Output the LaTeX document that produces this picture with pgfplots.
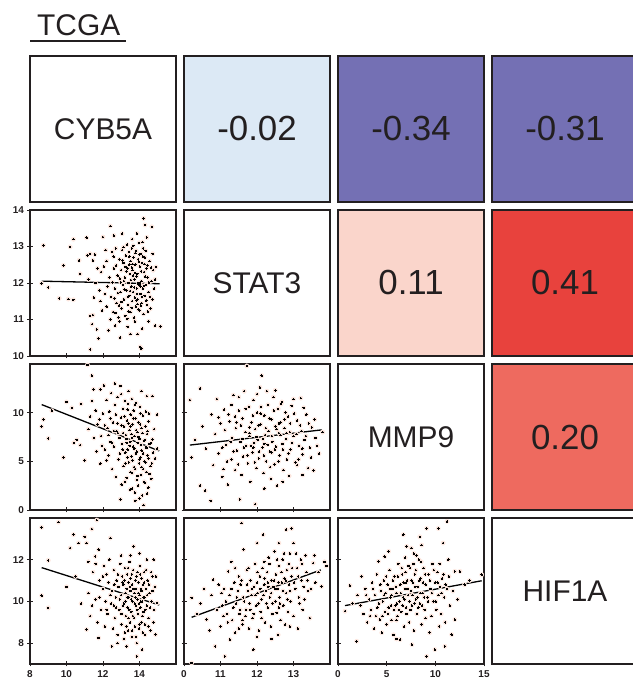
\documentclass[border=0pt]{standalone}
\usepackage{pgfplots}
\pgfplotsset{compat=1.18}
\usepackage{pgfplotstable}
\usepackage{fontspec}
\setmainfont{Liberation Sans}

\definecolor{frame}{RGB}{35,31,32}
\definecolor{hcol}{RGB}{252,230,222}
\definecolor{cblue}{RGB}{220,233,245}
\definecolor{cpurple}{RGB}{116,112,180}
\definecolor{cpink}{RGB}{250,213,203}
\definecolor{cred}{RGB}{232,66,61}
\definecolor{cmid}{RGB}{238,106,95}

% CYB5A vs STAT3
\pgfplotstableread{
x y
8.73 13.03
8.64 11.99
9.00 11.88
9.60 11.58
9.83 12.48
10.10 11.56
10.38 11.54
10.20 12.99
10.38 13.20
10.69 12.62
10.75 12.25
11.10 13.24
11.15 12.76
11.30 12.80
11.45 12.62
11.55 12.78
11.30 11.10
11.45 11.12
11.40 10.87
11.66 10.73
11.75 10.48
11.30 10.18
12.00 13.26
12.40 13.56
12.67 10.83
12.94 10.50
13.50 10.60
14.04 10.25
14.10 10.20
14.23 13.77
14.30 13.59
14.68 13.54
13.86 13.36
14.90 12.44
14.85 10.83
15.14 10.81
11.20 12.10
11.60 12.00
11.80 11.80
11.90 12.30
12.10 11.70
12.20 12.60
12.35 12.15
12.45 11.62
12.50 12.85
12.55 11.20
12.60 12.40
12.65 11.85
12.70 12.95
12.75 11.45
12.80 12.20
12.85 11.05
12.90 12.65
12.95 11.75
13.00 12.35
13.02 11.30
13.05 12.90
13.10 11.95
13.12 12.55
13.15 11.55
13.20 12.15
13.22 11.10
13.25 12.75
13.30 11.80
13.32 13.05
13.35 12.40
13.38 11.40
13.40 12.00
13.42 12.85
13.45 11.65
13.48 12.25
13.50 11.20
13.52 12.60
13.55 11.90
13.58 12.95
13.60 11.50
13.62 12.35
13.65 11.75
13.68 12.70
13.70 11.05
13.72 12.10
13.75 11.60
13.78 12.50
13.80 11.35
13.82 12.88
13.85 11.85
13.88 12.25
13.90 11.55
13.92 12.65
13.95 11.95
13.98 13.10
14.00 11.25
14.02 12.45
14.05 11.70
14.08 12.80
14.10 12.05
14.12 11.45
14.15 12.55
14.18 11.85
14.20 12.95
14.22 11.15
14.25 12.30
14.28 11.65
14.30 12.70
14.35 11.95
14.38 12.40
14.42 11.40
14.45 12.15
14.50 11.75
14.55 12.60
14.60 11.30
14.65 12.05
14.70 11.55
14.75 12.35
14.80 11.85
12.40 11.00
12.90 10.95
13.35 10.80
13.75 10.95
14.15 10.75
12.60 13.30
13.05 13.35
13.60 13.20
14.40 13.25
12.20 11.35
12.05 12.45
11.95 11.25
13.15 12.05
13.45 12.50
13.95 12.00
14.05 11.90
13.65 12.20
13.85 11.70
12.52 12.02
12.62 11.58
12.72 12.48
12.82 11.72
12.92 12.12
13.02 11.48
13.08 12.62
13.18 11.82
13.28 12.32
13.36 11.62
13.44 12.72
13.53 12.08
13.57 11.32
13.63 12.52
13.71 11.88
13.77 12.82
13.84 12.18
13.89 11.42
13.96 12.58
14.03 11.98
14.09 12.32
14.13 11.62
14.19 12.72
14.24 11.92
14.31 12.18
14.37 11.52
14.43 12.48
14.52 12.02
14.58 11.62
14.64 12.42
12.58 12.72
12.88 11.38
13.13 12.98
13.41 11.22
13.66 13.02
13.93 11.28
14.16 13.12
14.46 11.22
13.24 12.44
13.49 11.78
13.74 12.28
13.99 12.78
14.27 12.52
12.98 12.02
13.58 12.42
13.83 11.52
14.07 11.38
12.68 11.18
13.34 11.02
14.34 12.88
11.70 12.40
11.85 11.50
12.15 12.90
12.25 11.90
11.50 11.60
14.72 12.80
14.85 12.10
12.30 10.70
13.90 10.60
14.50 10.95
}\dataA

% CYB5A vs MMP9
\pgfplotstableread{
x y
8.64 8.58
8.73 9.30
9.00 7.36
9.20 10.20
9.83 5.38
10.00 11.10
10.29 10.49
10.40 6.90
10.56 7.20
10.75 6.67
10.80 10.90
11.00 5.10
11.15 14.90
11.39 13.80
11.48 12.40
11.20 8.30
11.30 9.60
11.50 7.40
11.60 10.20
11.70 8.80
11.85 12.40
11.85 4.76
11.90 7.60
12.00 9.90
12.10 6.20
12.20 11.30
12.25 8.40
12.30 5.60
12.35 10.10
12.40 7.00
12.45 12.00
12.50 4.20
12.55 9.00
12.60 6.50
12.65 10.80
12.70 3.40
12.75 8.10
12.80 11.60
12.85 5.20
12.90 7.40
12.95 12.74
12.95 1.10
13.00 9.50
13.02 2.60
13.05 6.80
13.10 10.40
13.12 4.50
13.15 8.60
13.20 11.20
13.22 5.90
13.25 7.70
13.30 3.30
13.32 9.20
13.35 6.20
13.38 10.90
13.40 12.20
13.42 4.90
13.45 8.20
13.48 2.10
13.50 7.00
13.52 9.80
13.55 5.50
13.58 11.40
13.60 3.80
13.62 8.80
13.65 6.50
13.68 10.20
13.70 4.40
13.72 7.60
13.75 1.80
13.77 0.94
13.78 9.40
13.80 5.80
13.82 11.00
13.85 3.10
13.88 8.00
13.90 6.90
13.92 2.50
13.95 9.00
13.98 4.80
14.00 7.30
14.02 10.60
14.05 5.40
14.08 3.60
14.10 8.40
14.12 6.10
14.15 1.50
14.18 9.70
14.20 4.20
14.23 0.50
14.25 7.10
14.28 5.00
14.30 2.80
14.32 8.60
14.35 6.40
14.38 3.90
14.40 11.70
14.42 7.80
14.45 5.60
14.48 2.30
14.50 9.10
14.55 6.80
14.60 4.50
14.65 3.20
14.70 11.70
14.70 7.26
14.75 5.90
14.80 8.30
14.96 9.80
14.96 6.30
12.80 8.90
13.10 7.90
13.50 8.60
13.30 6.90
13.60 7.40
12.82 7.90
12.92 5.80
13.02 8.70
13.08 6.20
13.18 9.60
13.24 4.80
13.28 7.30
13.34 5.40
13.40 8.90
13.46 6.60
13.52 3.90
13.56 7.80
13.62 5.10
13.66 9.40
13.72 6.30
13.76 4.20
13.82 8.20
13.86 6.00
13.90 3.50
13.94 7.50
14.00 5.20
14.04 8.80
14.08 6.70
14.12 4.40
14.16 7.90
14.20 5.80
14.26 2.90
14.30 7.20
14.34 4.90
14.40 6.40
14.44 8.10
14.50 5.30
14.56 3.70
14.62 6.90
14.68 4.80
12.70 9.80
12.60 8.10
12.50 6.90
12.40 9.40
12.30 7.70
12.20 5.10
12.10 8.70
11.95 6.60
11.80 9.30
11.65 6.00
13.35 10.30
13.75 10.80
14.05 9.90
14.35 10.10
13.20 2.90
13.60 2.20
14.00 1.20
14.42 1.70
14.52 9.90
14.85 5.30
11.40 11.20
12.05 12.80
12.65 13.00
13.00 11.90
14.10 12.20
}\dataB

% STAT3 vs MMP9
\pgfplotstableread{
x y
10.16 11.30
10.21 5.40
10.30 7.20
10.44 12.50
10.44 2.50
10.50 8.60
10.58 1.98
10.60 6.30
10.73 0.94
10.75 9.80
10.80 4.60
10.85 7.80
10.90 11.40
10.95 5.80
11.00 8.90
11.05 3.40
11.10 10.30
11.15 6.70
11.20 2.60
11.25 9.10
11.30 5.20
11.32 7.40
11.35 11.80
11.40 4.10
11.42 8.40
11.45 6.10
11.50 10.20
11.53 1.10
11.55 7.00
11.58 3.60
11.60 9.40
11.62 5.50
11.65 12.20
11.68 8.00
11.70 6.60
11.72 14.80
11.75 4.80
11.78 10.60
11.80 7.60
11.82 2.90
11.85 9.00
11.88 5.90
11.90 11.30
11.92 6.90
11.95 0.60
11.95 8.30
11.98 4.30
12.00 10.00
12.02 7.20
12.05 5.30
12.08 12.60
12.10 8.80
12.13 13.80
12.15 6.40
12.18 3.80
12.20 9.70
12.22 7.70
12.25 5.00
12.27 12.20
12.30 10.80
12.32 8.10
12.35 6.00
12.38 3.20
12.40 9.30
12.42 7.00
12.45 11.60
12.48 4.70
12.50 8.60
12.52 6.50
12.55 2.50
12.58 10.40
12.60 7.90
12.62 5.60
12.65 9.00
12.68 11.10
12.70 6.80
12.72 4.10
12.75 8.40
12.78 10.00
12.80 7.30
12.82 5.20
12.85 9.60
12.88 3.50
12.90 8.00
12.92 6.20
12.95 10.70
13.00 7.60
13.05 4.90
13.10 4.60
13.10 9.20
13.15 6.60
13.20 11.50
13.22 8.10
13.25 5.70
13.30 7.20
13.35 9.80
13.40 4.30
13.45 6.40
13.50 8.50
13.55 4.06
13.60 7.40
13.70 5.80
13.80 8.00
11.40 9.60
11.60 7.30
11.90 6.40
12.10 9.90
12.40 5.90
12.60 8.90
12.20 6.80
11.80 8.50
11.05 6.40
11.12 8.20
11.18 5.00
11.22 9.80
11.28 7.00
11.36 6.00
11.44 9.00
11.48 4.70
11.56 8.70
11.64 6.40
11.69 10.40
11.74 5.60
11.79 7.90
11.84 6.60
11.89 9.70
11.94 4.90
11.99 7.50
12.04 8.70
12.06 6.00
12.11 10.60
12.16 7.30
12.19 5.60
12.24 8.40
12.29 6.70
12.34 9.40
12.36 4.40
12.41 7.60
12.46 10.20
12.49 6.20
12.54 8.30
12.59 5.00
12.64 7.70
12.66 10.90
12.71 6.20
12.76 9.30
12.81 7.90
12.86 5.80
12.91 8.90
12.96 6.90
13.02 9.90
13.08 7.80
13.14 5.20
13.18 8.70
13.24 6.30
13.28 10.50
13.34 7.60
13.42 8.90
13.48 5.40
13.58 9.30
13.65 6.60
11.30 10.80
11.50 11.60
12.00 11.90
12.50 12.30
13.00 11.40
10.95 9.50
11.08 4.20
12.20 2.20
12.70 2.90
13.25 3.60
}\dataC

% CYB5A vs HIF1A
\pgfplotstableread{
x y
8.64 13.55
8.64 10.28
9.00 9.69
9.00 11.97
9.56 13.80
10.00 10.70
10.20 12.56
10.38 13.20
10.66 12.80
10.50 11.20
10.80 9.90
11.00 13.10
11.10 12.80
11.10 8.65
11.20 10.40
11.30 9.30
11.39 13.47
11.45 11.40
11.57 12.16
11.60 10.10
11.66 13.90
11.70 9.00
11.76 12.48
11.76 8.25
11.80 11.00
11.90 9.60
12.00 10.60
12.05 11.70
12.10 8.80
12.15 10.00
12.20 11.30
12.25 9.40
12.30 10.90
12.35 12.00
12.40 13.04
12.45 9.90
12.49 7.85
12.50 10.50
12.55 8.70
12.60 11.50
12.65 9.20
12.70 10.20
12.75 11.00
12.80 8.40
12.85 10.70
12.90 9.60
12.95 11.80
13.00 10.30
13.02 8.90
13.05 11.20
13.10 9.80
13.12 10.80
13.15 8.20
13.20 11.60
13.22 10.00
13.25 9.30
13.30 10.60
13.30 7.85
13.32 11.30
13.35 9.70
13.38 8.60
13.40 10.90
13.42 10.20
13.45 11.90
13.48 9.00
13.50 10.50
13.52 11.10
13.55 9.50
13.58 8.30
13.60 10.80
13.62 10.00
13.65 11.50
13.68 12.64
13.70 9.20
13.72 10.40
13.75 8.80
13.78 11.00
13.80 9.80
13.82 10.60
13.85 8.00
13.86 7.37
13.88 11.40
13.90 10.10
13.92 9.40
13.95 10.90
13.98 8.70
14.00 10.30
14.02 11.70
14.05 9.70
14.08 10.60
14.10 9.00
14.12 11.10
14.14 7.69
14.15 10.00
14.18 8.50
14.20 10.80
14.22 9.50
14.25 11.40
14.28 10.20
14.30 8.90
14.35 10.60
14.40 9.80
14.45 11.00
14.50 9.20
14.55 10.40
14.60 8.60
14.65 10.00
14.70 11.20
14.78 12.00
14.80 9.60
14.87 8.41
14.96 9.93
12.62 10.80
12.72 9.70
12.82 11.30
12.92 10.10
13.02 9.40
13.08 10.90
13.14 9.90
13.18 11.00
13.24 10.40
13.28 8.80
13.34 10.20
13.38 11.60
13.44 9.60
13.48 10.70
13.54 10.10
13.58 11.30
13.64 9.30
13.68 10.60
13.74 9.90
13.78 10.20
13.84 11.20
13.88 9.60
13.94 10.40
13.98 9.90
14.04 11.30
14.08 10.00
14.12 10.50
14.16 9.30
14.22 10.20
14.26 10.90
14.32 9.60
14.36 11.50
14.42 10.30
14.48 8.80
14.52 10.80
14.58 9.70
14.64 11.40
14.72 10.50
14.76 9.00
14.84 10.70
13.40 9.20
13.60 8.60
13.80 8.30
14.00 8.90
14.30 8.40
12.60 9.80
12.40 10.30
12.20 9.60
12.00 11.20
11.80 10.20
11.60 11.80
11.40 9.80
11.20 11.90
13.00 12.20
13.50 12.20
14.00 12.30
14.40 12.00
13.20 8.50
12.80 8.00
14.90 11.20
}\dataD

% STAT3 vs HIF1A
\pgfplotstableread{
x y
10.21 10.17
10.21 7.05
10.35 9.40
10.45 9.90
10.55 10.60
10.62 9.13
10.70 8.60
10.75 10.30
10.80 11.04
10.85 7.85
10.90 9.60
10.95 10.80
11.00 8.80
11.03 10.40
11.08 9.30
11.12 7.37
11.15 10.00
11.20 9.00
11.21 11.44
11.26 8.17
11.30 10.60
11.35 9.70
11.40 8.50
11.45 10.20
11.50 11.20
11.52 9.40
11.55 10.80
11.58 13.76
11.60 8.90
11.63 12.48
11.65 10.00
11.70 9.60
11.72 11.50
11.75 10.50
11.78 8.70
11.80 9.90
11.82 11.00
11.85 10.30
11.88 9.20
11.90 7.69
11.92 10.70
11.95 11.80
11.98 9.80
12.00 12.80
12.02 10.40
12.05 8.60
12.08 11.20
12.10 9.50
12.12 10.10
12.15 11.60
12.17 13.20
12.20 10.80
12.22 9.00
12.25 10.50
12.28 11.40
12.30 9.70
12.32 12.10
12.35 10.20
12.38 8.80
12.40 11.00
12.42 9.40
12.45 10.70
12.48 12.40
12.50 10.00
12.52 11.30
12.54 9.45
12.56 10.60
12.58 8.40
12.60 11.70
12.62 10.20
12.65 9.10
12.68 10.90
12.70 12.00
12.72 9.80
12.75 11.10
12.77 8.89
12.80 13.44
12.80 10.40
12.82 11.50
12.85 9.50
12.88 10.80
12.90 12.30
12.92 10.00
12.95 13.50
12.95 11.20
13.00 12.80
13.00 9.30
13.05 10.60
13.10 11.60
13.12 8.70
13.15 10.20
13.20 12.00
13.22 11.00
13.25 9.60
13.30 10.10
13.35 11.40
13.40 10.50
13.45 9.20
13.54 11.84
13.60 10.90
13.77 10.72
13.85 11.90
11.40 11.60
11.60 9.10
12.00 10.90
12.30 10.90
12.60 9.70
12.20 11.90
11.05 9.80
11.10 10.60
11.18 9.40
11.25 10.30
11.32 9.10
11.38 10.90
11.43 9.90
11.48 10.50
11.54 9.60
11.58 11.00
11.62 10.20
11.68 9.30
11.73 10.80
11.77 11.60
11.82 9.60
11.86 10.60
11.91 9.40
11.96 10.30
12.01 11.40
12.04 9.90
12.09 10.60
12.13 9.20
12.18 10.30
12.21 11.10
12.26 9.90
12.31 10.70
12.34 11.80
12.39 10.40
12.43 9.90
12.47 11.00
12.51 10.60
12.55 12.00
12.59 10.90
12.63 9.90
12.67 11.40
12.71 10.50
12.74 12.30
12.79 11.00
12.83 10.10
12.87 11.80
12.91 10.50
12.96 11.60
13.02 10.90
13.07 12.30
13.13 11.20
13.17 9.90
13.23 11.80
13.28 10.70
13.33 12.20
13.38 11.00
13.48 10.60
13.57 12.20
13.68 11.40
13.90 11.70
11.50 8.70
12.00 8.30
12.40 8.20
12.90 8.80
11.30 11.90
12.60 12.80
}\dataE

% MMP9 vs HIF1A
\pgfplotstableread{
x y
0.72 9.53
1.23 10.76
1.50 9.90
1.92 8.09
2.00 10.30
2.43 11.20
2.60 9.40
2.80 10.60
3.00 9.00
3.20 10.10
3.40 9.60
3.50 10.90
3.70 8.70
3.80 10.30
3.90 9.30
4.00 11.30
4.15 11.92
4.20 9.90
4.30 9.13
4.40 10.50
4.50 8.50
4.60 10.00
4.70 11.00
4.80 12.15
4.85 9.50
4.90 10.40
5.00 8.90
5.10 10.80
5.20 9.70
5.30 11.50
5.40 10.20
5.50 9.10
5.60 10.60
5.70 8.40
5.80 11.20
5.90 9.80
6.00 10.40
6.10 9.30
6.20 11.80
6.30 10.00
6.37 8.17
6.40 10.80
6.50 9.50
6.60 11.30
6.71 13.20
6.70 10.20
6.80 8.80
6.90 10.60
7.00 9.70
7.05 12.64
7.10 11.00
7.20 10.30
7.30 9.00
7.40 11.60
7.50 10.50
7.53 12.56
7.60 7.93
7.60 9.80
7.70 10.90
7.80 8.60
7.90 11.30
8.00 10.10
8.10 9.40
8.20 10.70
8.30 12.00
8.40 13.10
8.40 9.90
8.50 11.10
8.60 8.90
8.70 10.40
8.80 11.60
8.90 9.60
9.00 10.80
9.10 13.50
9.10 7.37
9.20 10.20
9.30 11.30
9.40 8.50
9.50 10.60
9.60 9.30
9.70 11.80
9.80 10.00
9.95 7.69
10.00 10.90
10.10 9.60
10.20 11.40
10.30 13.50
10.30 10.30
10.40 8.80
10.50 10.70
10.60 9.40
10.70 11.10
10.80 12.80
10.90 10.20
10.98 7.85
11.00 9.00
11.20 13.84
11.20 10.60
11.33 12.00
11.50 9.80
11.68 8.41
11.80 10.50
12.00 11.44
12.00 9.13
12.30 10.10
12.53 11.44
13.00 10.80
13.50 11.00
14.76 11.28
7.00 10.90
6.00 9.10
8.00 11.50
5.50 10.30
9.00 9.20
2.30 9.80
2.90 10.30
3.30 9.30
3.60 10.60
4.05 9.70
4.35 10.80
4.55 9.30
4.75 10.30
4.95 11.20
5.15 9.40
5.35 10.60
5.45 9.80
5.65 11.00
5.75 9.60
5.95 10.70
6.05 9.90
6.15 11.20
6.25 9.60
6.45 10.40
6.55 11.60
6.65 9.80
6.75 10.90
6.85 10.10
6.95 11.40
7.05 9.40
7.15 10.60
7.25 11.70
7.35 10.00
7.45 9.60
7.55 11.00
7.65 10.30
7.75 11.80
7.85 9.90
7.95 10.70
8.05 12.20
8.15 10.20
8.25 9.70
8.35 11.00
8.45 10.40
8.55 11.90
8.65 9.80
8.75 10.90
8.85 10.20
8.95 11.30
9.25 10.00
9.45 11.00
9.65 10.40
9.85 11.50
10.05 10.00
10.25 10.90
10.45 11.80
10.65 10.40
10.85 11.30
11.05 10.80
11.40 11.20
6.90 12.10
7.80 12.30
5.20 12.40
8.60 12.70
6.00 8.20
}\dataF

\pgfplotsset{
  sc/.style={
    width=146bp, height=146bp, scale only axis,
    anchor=north west,
    axis line style={line width=2.6bp, frame},
    tick style={line width=0.9bp, frame},
    major tick length=5bp, tick align=center,
    xtick pos=left, ytick pos=left,
    ticklabel style={font=\fontsize{10}{12}\selectfont\bfseries, text=frame},
    /pgf/number format/assume math mode=true,
    xticklabel style={yshift=-1bp},
  },
  halopts/.style={only marks, mark=*, mark size=2.2bp,
    mark options={fill=hcol, draw=hcol}},
  dots/.style={only marks, mark=*, mark size=0.75bp,
    mark options={fill=black, draw=black, line width=0pt}},
  fit/.style={black, line width=1.3bp},
}

\newcommand{\cell}[5]{%
  \filldraw[fill=#3, draw=frame, line width=2.6bp] (#1bp,#2bp) rectangle ++(146bp,-146bp);
  \node[font=\fontsize{#5}{#5}\selectfont, text=frame] at (#1bp+73bp,#2bp-73bp) {#4};}

\begin{document}
\begin{tikzpicture}

% title
\node[anchor=base west, font=\fontsize{30}{36}\selectfont, text=frame, inner sep=0pt] at (37bp,646bp) {TCGA};
\draw[frame, line width=2bp] (30bp,641bp) -- (126bp,641bp);

% row 1
\cell{30}{626}{white}{CYB5A}{30}
\cell{184}{626}{cblue}{-0.02}{35}
\cell{338}{626}{cpurple}{-0.34}{35}
\cell{492}{626}{cpurple}{-0.31}{35}
% row 2
\cell{184}{472}{white}{STAT3}{30}
\cell{338}{472}{cpink}{0.11}{35}
\cell{492}{472}{cred}{0.41}{35}
% row 3
\cell{338}{318}{white}{MMP9}{30}
\cell{492}{318}{cmid}{0.20}{35}
% row 4
\cell{492}{164}{white}{HIF1A}{30}

% row 2, col 1
\begin{axis}[sc, at={(30bp,472bp)}, xmin=8, xmax=16, ymin=10, ymax=14,
  xtick={10,12,14}, xticklabels={}, ytick={10,11,12,13,14}]
\addplot[halopts] table {\dataA};
\addplot[dots] table {\dataA};
\addplot[fit] coordinates {(8.64,12.05) (15.1,11.98)};
\end{axis}

% row 3, col 1
\begin{axis}[sc, at={(30bp,318bp)}, xmin=8, xmax=16, ymin=0, ymax=15,
  xtick={10,12,14}, xticklabels={}, ytick={0,5,10}]
\addplot[halopts] table {\dataB};
\addplot[dots] table {\dataB};
\addplot[fit] coordinates {(8.64,10.83) (15.08,6.07)};
\end{axis}

% row 3, col 2
\begin{axis}[sc, at={(184bp,318bp)}, xmin=10, xmax=14, ymin=0, ymax=15,
  xtick={11,12,13}, xticklabels={}, ytick={0,5,10}, yticklabels={}]
\addplot[halopts] table {\dataC};
\addplot[dots] table {\dataC};
\addplot[fit] coordinates {(10.16,6.67) (13.77,8.23)};
\end{axis}

% row 4, col 1
\begin{axis}[sc, at={(30bp,164bp)}, xmin=8, xmax=16, ymin=7, ymax=14,
  xtick={8,10,12,14}, ytick={8,10,12}]
\addplot[halopts] table {\dataD};
\addplot[dots] table {\dataD};
\addplot[fit] coordinates {(8.64,11.62) (15.08,9.83)};
\end{axis}

% row 4, col 2
\begin{axis}[sc, at={(184bp,164bp)}, xmin=10, xmax=14, ymin=7, ymax=14,
  xtick={10,11,12,13}, xticklabels={0,11,12,13}, ytick={8,10,12}, yticklabels={}]
\addplot[halopts] table {\dataE};
\addplot[dots] table {\dataE};
\addplot[fit] coordinates {(10.21,9.24) (13.75,11.51)};
\end{axis}

% row 4, col 3
\begin{axis}[sc, at={(338bp,164bp)}, xmin=0, xmax=15, ymin=7, ymax=14,
  xtick={0,5,10,15}, ytick={8,10,12}, yticklabels={}]
\addplot[halopts] table {\dataF};
\addplot[dots] table {\dataF};
\addplot[fit] coordinates {(0.72,9.80) (14.76,10.99)};
\end{axis}

\pgfresetboundingbox
\path (0,0) rectangle (633bp,682bp);
\end{tikzpicture}
\end{document}
